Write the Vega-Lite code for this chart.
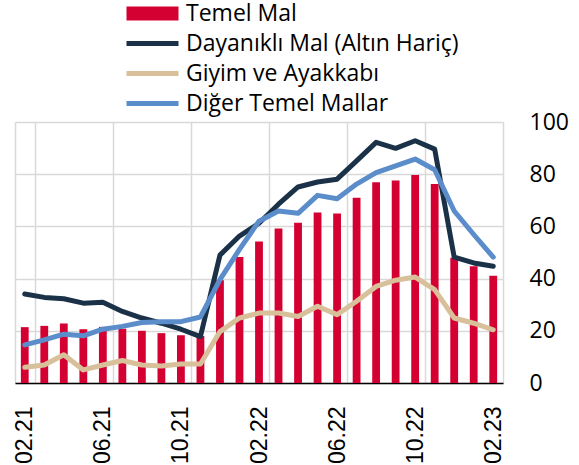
{
  "$schema": "https://vega.github.io/schema/vega-lite/v6.json",
  "width": 488,
  "height": 261,
  "autosize": "none",
  "padding": {"left": 15, "top": 122, "right": 76, "bottom": 82},
  "config": {"font": "Open Sans", "view": {"stroke": null}},
  "data": {
    "values": [
      {"m": "02.21", "temel": 21.4, "day": 34.1, "giy": 6.0, "dig": 14.6},
      {"m": "03.21", "temel": 21.9, "day": 32.8, "giy": 6.9, "dig": 16.5},
      {"m": "04.21", "temel": 22.8, "day": 32.3, "giy": 10.8, "dig": 18.7},
      {"m": "05.21", "temel": 20.6, "day": 30.6, "giy": 5.0, "dig": 18.1},
      {"m": "06.21", "temel": 21.5, "day": 30.9, "giy": 6.9, "dig": 20.6},
      {"m": "07.21", "temel": 20.8, "day": 27.4, "giy": 8.6, "dig": 21.7},
      {"m": "08.21", "temel": 20.0, "day": 24.9, "giy": 6.9, "dig": 23.2},
      {"m": "09.21", "temel": 19.1, "day": 22.9, "giy": 6.5, "dig": 23.5},
      {"m": "10.21", "temel": 18.3, "day": 20.6, "giy": 7.3, "dig": 23.5},
      {"m": "11.21", "temel": 18.0, "day": 17.8, "giy": 7.3, "dig": 25.3},
      {"m": "12.21", "temel": 39.4, "day": 49.0, "giy": 19.7, "dig": 39.6},
      {"m": "01.22", "temel": 48.3, "day": 56.3, "giy": 24.9, "dig": 51.2},
      {"m": "02.22", "temel": 54.2, "day": 61.2, "giy": 26.8, "dig": 62.0},
      {"m": "03.22", "temel": 59.2, "day": 68.5, "giy": 26.8, "dig": 65.9},
      {"m": "04.22", "temel": 61.4, "day": 75.1, "giy": 25.5, "dig": 65.0},
      {"m": "05.22", "temel": 65.3, "day": 77.0, "giy": 29.4, "dig": 71.9},
      {"m": "06.22", "temel": 64.9, "day": 78.1, "giy": 26.2, "dig": 70.6},
      {"m": "07.22", "temel": 71.0, "day": 85.1, "giy": 31.3, "dig": 76.2},
      {"m": "08.22", "temel": 76.9, "day": 92.2, "giy": 37.0, "dig": 80.6},
      {"m": "09.22", "temel": 77.6, "day": 89.9, "giy": 39.4, "dig": 83.2},
      {"m": "10.22", "temel": 79.7, "day": 92.8, "giy": 40.6, "dig": 85.8},
      {"m": "11.22", "temel": 76.2, "day": 89.6, "giy": 35.8, "dig": 81.7},
      {"m": "12.22", "temel": 48.0, "day": 48.2, "giy": 24.9, "dig": 65.9},
      {"m": "01.23", "temel": 44.7, "day": 46.0, "giy": 22.9, "dig": 56.9},
      {"m": "02.23", "temel": 41.1, "day": 44.7, "giy": 20.4, "dig": 48.2}
    ]
  },
  "encoding": {
    "x": {
      "field": "m",
      "type": "ordinal",
      "sort": null,
      "scale": {"type": "band", "paddingInner": 0, "paddingOuter": 0},
      "axis": {
        "values": ["02.21", "06.21", "10.21", "02.22", "06.22", "10.22", "02.23"],
        "tickBand": "extent",
        "ticks": false,
        "labelAngle": -90,
        "labelFont": "Liberation Sans",
        "labelFontSize": 23,
        "labelColor": "#000",
        "labelPadding": 23,
        "domainColor": "#000",
        "domainWidth": 1.5,
        "grid": true,
        "gridColor": "#d9d9d9",
        "gridWidth": 1.5,
        "title": null
      }
    }
  },
  "layer": [
    {
      "mark": {"type": "bar", "width": {"band": 0.4}},
      "encoding": {
        "y": {
          "field": "temel",
          "type": "quantitative",
          "scale": {"domain": [0, 100]},
          "axis": {
            "orient": "right",
            "values": [0, 20, 40, 60, 80, 100],
            "domain": false,
            "ticks": false,
            "labelFontSize": 23,
            "labelColor": "#000",
            "labelPadding": 26,
            "gridColor": "#d9d9d9",
            "gridWidth": 1.5,
            "title": null
          }
        },
        "color": {
          "datum": "Temel Mal",
          "type": "nominal",
          "scale": {
            "domain": ["Temel Mal", "Dayanıklı Mal (Altın Hariç)", "Giyim ve Ayakkabı", "Diğer Temel Mallar"],
            "range": ["#d50032", "#1b3147", "#d7c09a", "#5b8dcb"]
          },
          "legend": {
            "orient": "none",
            "legendX": 110,
            "legendY": -120,
            "title": null,
            "labelFont": "Open Sans",
            "labelFontSize": 23,
            "labelLimit": 0,
            "labelColor": "#000",
            "symbolSize": 400,
            "rowPadding": 6,
            "labelOffset": 38,
            "encode": {
              "symbols": {
                "update": {
                  "shape": {"signal": "datum.value === 'Temel Mal' ? 'M-1,-0.7H4.2V0.7H-1Z' : 'M-1,-0.25H4.2V0.25H-1Z'"},
                  "fill": {"scale": "color", "field": "value"},
                  "stroke": {"value": "transparent"},
                  "strokeWidth": {"value": 0},
                  "opacity": {"value": 1}
                }
              }
            }
          }
        }
      }
    },
    {
      "mark": {"type": "line", "strokeWidth": 5, "strokeJoin": "round", "strokeCap": "round"},
      "encoding": {
        "y": {"field": "giy", "type": "quantitative"},
        "color": {"datum": "Giyim ve Ayakkabı", "type": "nominal"}
      }
    },
    {
      "mark": {"type": "line", "strokeWidth": 5, "strokeJoin": "round", "strokeCap": "round"},
      "encoding": {
        "y": {"field": "day", "type": "quantitative"},
        "color": {"datum": "Dayanıklı Mal (Altın Hariç)", "type": "nominal"}
      }
    },
    {
      "mark": {"type": "line", "strokeWidth": 5, "strokeJoin": "round", "strokeCap": "round"},
      "encoding": {
        "y": {"field": "dig", "type": "quantitative"},
        "color": {"datum": "Diğer Temel Mallar", "type": "nominal"}
      }
    }
  ]
}
